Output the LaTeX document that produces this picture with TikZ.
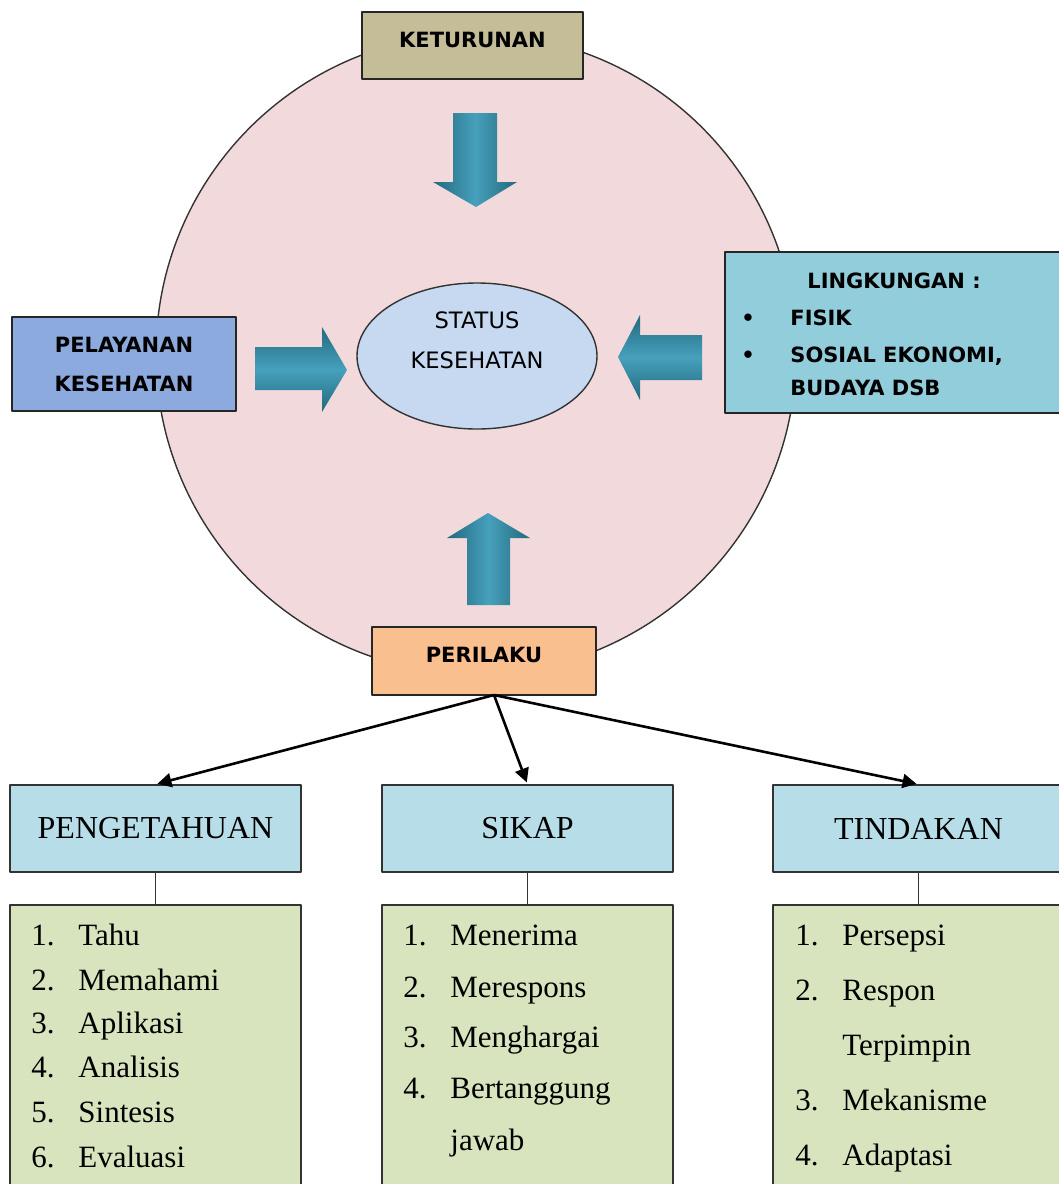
\documentclass[tikz,border=0pt]{standalone}
\usepackage{fontspec}
\setmainfont{Liberation Serif}
\newfontfamily\boxfont{DejaVu Sans}
\usetikzlibrary{shapes.geometric,arrows.meta}

% warna kotak
\definecolor{kulit}{RGB}{242,218,220}
\definecolor{tanbox}{RGB}{196,189,151}
\definecolor{birubox}{RGB}{141,170,222}
\definecolor{aquabox}{RGB}{146,205,220}
\definecolor{oranyebox}{RGB}{250,191,143}
\definecolor{statusbiru}{RGB}{198,217,241}
\definecolor{judulbox}{RGB}{183,221,232}
\definecolor{daftarbox}{RGB}{215,228,189}
\definecolor{tealtua}{RGB}{35,105,125}
\definecolor{tealmuda}{RGB}{70,160,188}

\begin{document}
\begin{tikzpicture}[x=0.5pt, y=-0.5pt, line join=round,
    faktor/.style={draw=black!85, line width=0.8pt, inner sep=0pt, align=center,
        font=\boxfont\bfseries\fontsize{10.5}{19.5}\selectfont},
    isi/.style={anchor=base west, inner sep=0pt, font=\boxfont\bfseries\fontsize{10.5}{12}\selectfont},
    judul/.style={draw=black!80, line width=0.7pt, fill=judulbox, minimum width=145.5pt,
        minimum height=43.5pt, inner sep=0pt, font=\fontsize{16}{19}\selectfont},
    daftar/.style={draw=black!80, line width=0.7pt, fill=daftarbox, minimum width=145.5pt,
        minimum height=147.5pt, inner sep=0pt},
    butir/.style={anchor=base west, inner sep=0pt, font=\fontsize{15.5}{18}\selectfont},
    panah/.style={-{Triangle[length=7pt,width=7pt]}, line width=1.3pt, shorten >=1pt},
    garis/.style={draw=black!80, line width=0.7pt},
    ]
    \useasboundingbox (0,0) rectangle (1059,1184);
    \clip (0,0) rectangle (1059,1184);
    \fill[white] (0,0) rectangle (1059,1184);

    % lingkaran besar
    \node[circle, draw=black!80, line width=0.7pt, fill=kulit, minimum size=320pt, inner sep=0pt] (lingkar) at (476,354) {};

    % status kesehatan
    \node[ellipse, draw=black!80, line width=0.7pt, fill=statusbiru, minimum width=120pt, minimum height=73pt, inner sep=0pt] (status) at (477,356) {};
    \node[align=center, font=\boxfont\fontsize{11.3}{20}\selectfont] (statuslbl) at (477,340) {STATUS\\KESEHATAN};

    % panah blok ke tengah
    \shade[left color=tealtua, right color=tealtua, middle color=tealmuda]
        (453,113) -- (497,113) -- (497,182) -- (517,182) -- (476,207) -- (433,182) -- (453,182) -- cycle;
    \shade[top color=tealtua, bottom color=tealtua, middle color=tealmuda]
        (255,347) -- (322,347) -- (322,327) -- (347,370) -- (322,412) -- (322,390) -- (255,390) -- cycle;
    \shade[top color=tealtua, bottom color=tealtua, middle color=tealmuda]
        (702,335) -- (640,335) -- (640,315) -- (618,357) -- (640,400) -- (640,380) -- (702,380) -- cycle;
    \shade[left color=tealtua, right color=tealtua, middle color=tealmuda]
        (467,605) -- (467,538) -- (447,538) -- (488,513) -- (530,538) -- (510,538) -- (510,605) -- cycle;

    % faktor-faktor
    \node[faktor, fill=tanbox, minimum width=110.5pt, minimum height=33.5pt] (keturunan) at (472.5,45.5) {\raisebox{6pt}{KETURUNAN}};
    \node[faktor, fill=birubox, minimum width=112pt, minimum height=47pt] (pelayanan) at (124,364) {PELAYANAN\\KESEHATAN};
    \node[faktor, fill=oranyebox, minimum width=112pt, minimum height=34pt] (perilaku) at (484,661) {\raisebox{6pt}{PERILAKU}};
    \node[faktor, fill=aquabox, minimum width=170pt, minimum height=80.5pt] (lingkungan) at (895,332.5) {};

    % isi kotak lingkungan
    \node[isi] (lingjudul) at (807,288) {LINGKUNGAN :};
    \node[isi, anchor=base] (bul1) at (748,325) {\textbullet};
    \node[isi] (fisik) at (790,325) {FISIK};
    \node[isi, anchor=base] (bul2) at (748,362) {\textbullet};
    \node[isi] (sosial) at (790,362) {SOSIAL EKONOMI,};
    \node[isi] (budaya) at (790,395) {BUDAYA DSB};

    % domain perilaku
    \node[judul] (pengetahuan) at (155.5,828.5) {PENGETAHUAN};
    \node[judul] (sikap) at (527.5,828.5) {SIKAP};
    \node[judul] (tindakan) at (918.5,828.5) {TINDAKAN};

    \coordinate (cabang) at (494,695);
    \draw[panah] (cabang) -- (pengetahuan.north);
    \draw[panah] (cabang) -- (sikap.north);
    \draw[panah] (cabang) -- (tindakan.north);

    % daftar tingkatan
    \node[daftar] (daftarp) at (155.5,1052.5) {};
    \node[daftar] (daftars) at (527.5,1052.5) {};
    \node[daftar] (daftart) at (918.5,1052.5) {};

    \draw[garis] (pengetahuan.south) -- (daftarp.north);
    \draw[garis] (sikap.south) -- (daftars.north);
    \draw[garis] (tindakan.south) -- (daftart.north);

    \foreach \y/\n/\t in {945/1./Tahu, 990/2./Memahami, 1033/3./Aplikasi, 1077/4./Analisis, 1122/5./Sintesis, 1167/6./Evaluasi} {
        \node[butir] (pn\y) at (31,\y) {\n};
        \node[butir] (pt\y) at (78,\y) {\t};
    }
    \foreach \y/\n/\t in {945/1./Menerima, 997/2./Merespons, 1047/3./Menghargai, 1098/4./Bertanggung, 1150//jawab} {
        \node[butir] (sn\y) at (403,\y) {\n};
        \node[butir] (st\y) at (450,\y) {\t};
    }
    \foreach \y/\n/\t in {945/1./Persepsi, 1000/2./Respon, 1055//Terpimpin, 1110/3./Mekanisme, 1165/4./Adaptasi} {
        \node[butir] (tn\y) at (795,\y) {\n};
        \node[butir] (tt\y) at (842,\y) {\t};
    }

\end{tikzpicture}
\end{document}
